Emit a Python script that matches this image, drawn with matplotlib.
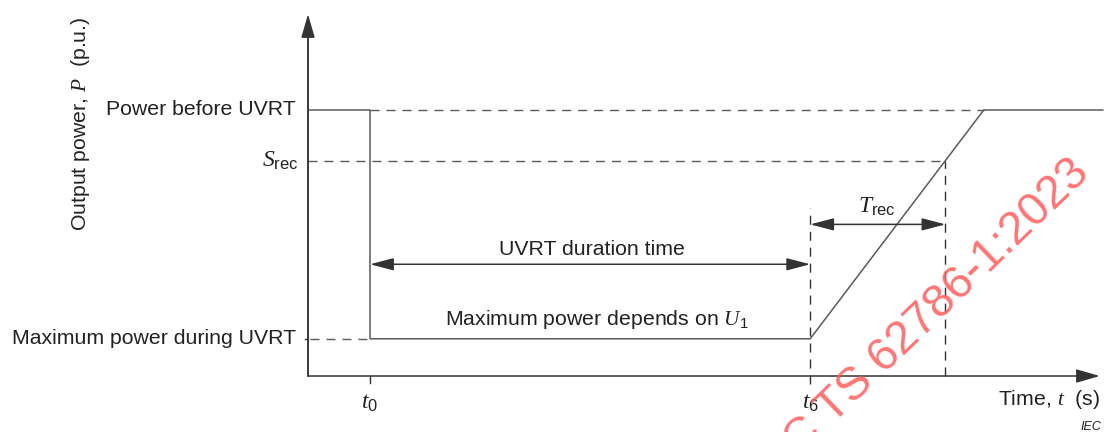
import matplotlib
matplotlib.use("Agg")
import matplotlib.pyplot as plt
import numpy as np

plt.rcParams['font.family'] = ['Liberation Sans', 'DejaVu Sans']
plt.rcParams['mathtext.fontset'] = 'custom'
plt.rcParams['mathtext.rm'] = 'Liberation Sans'
plt.rcParams['mathtext.it'] = 'Liberation Serif:italic'
plt.rcParams['mathtext.default'] = 'it'

# time instants (arbitrary units)
t0 = 1.0
t6 = 8.1
t_ramp_end = 10.9
t_line_end = 12.82
t_axis_end = 12.77

# power levels (p.u.)
P_before = 1.0
S_rec = 0.81
P_min = 0.14
P_axis_end = 1.36
y_trec_arrow = 0.57
y_dur_arrow = 0.42

# output power profile
prof_t = [0.0, t0, t0, t6, t_ramp_end, t_line_end]
prof_p = [P_before, P_before, P_min, P_min, P_before, P_before]

# time where the ramp reaches S_rec
t_srec = np.interp(S_rec, [P_min, P_before], [t6, t_ramp_end])

LINE = '#5a5a5a'
AXC = '#333333'
TXT = '#222222'
DASH = (0, (6.5, 5))

fig = plt.figure(figsize=(11.2, 4.32), dpi=100)
ax = fig.add_axes([0, 0, 1, 1])
ax.set_xlim(-4.968, 13.097)
ax.set_ylim(-0.2105, 1.4135)
ax.axis('off')

# axes with arrow heads
arr = dict(arrowstyle='-|>,head_length=1.45,head_width=0.42', color=AXC,
           lw=1.1, shrinkA=0, shrinkB=0, mutation_scale=10)
ax.annotate('', xy=(0, P_axis_end), xytext=(0, 0), arrowprops=arr)
ax.annotate('', xy=(t_axis_end, 0), xytext=(0, 0), arrowprops=arr)
ax.plot([0, 0], [0, P_axis_end - 0.05], color=AXC, lw=1.1)

# ticks
ax.plot([-0.05, 0], [P_min, P_min], color=AXC, lw=1)
ax.plot([t0, t0], [0, -0.025], color=AXC, lw=1)

# dashed guides
ax.plot([t0, t_ramp_end], [P_before, P_before], color=LINE, lw=1, ls=DASH)
ax.plot([0, t_srec], [S_rec, S_rec], color=LINE, lw=1, ls=DASH)
ax.plot([0.03, t0], [P_min, P_min], color=LINE, lw=1, ls=DASH)
ax.plot([t6, t6], [-0.03, 0.63], color=AXC, lw=1, ls=DASH)
ax.plot([t_srec, t_srec], [0, S_rec], color=AXC, lw=1, ls=DASH)

# power profile
ax.plot(prof_t, prof_p, color=LINE, lw=1.1)

# dimension arrows
dim = dict(arrowstyle='<|-|>,head_length=1.45,head_width=0.38', color=AXC,
           lw=1.1, shrinkA=0, shrinkB=0, mutation_scale=10)
ax.annotate('', xy=(t0, y_dur_arrow), xytext=(t6, y_dur_arrow), arrowprops=dim)
ax.annotate('', xy=(t6, y_trec_arrow), xytext=(t_srec, y_trec_arrow), arrowprops=dim)

fs = 15.3
fs_sym = 17
ax.text((t0 + t6) / 2 + 0.03, y_dur_arrow + 0.02, 'UVRT duration time',
        ha='center', va='bottom', fontsize=fs, color=TXT)
ax.text((t6 + t_srec) / 2 - 0.02, y_trec_arrow + 0.025, r'$T_{\mathrm{rec}}$',
        ha='center', va='bottom', fontsize=fs_sym, color=TXT)
ax.text((t0 + t6) / 2 + 0.1, P_min + 0.03, r'Maximum power depends on $U_{\mathrm{1}}$',
        ha='center', va='bottom', fontsize=fs, color=TXT)

# y level labels
ax.text(-0.19, P_before, 'Power before UVRT', ha='right', va='center',
        fontsize=fs, color=TXT)
ax.text(-0.16, S_rec, r'$S_{\mathrm{rec}}$', ha='right', va='center',
        fontsize=fs_sym, color=TXT)
ax.text(-0.19, P_min, 'Maximum power during UVRT', ha='right', va='center',
        fontsize=fs, color=TXT)

# x labels
ax.text(t0, -0.062, r'$t_{\mathrm{0}}$', ha='center', va='top', fontsize=fs_sym, color=TXT)
ax.text(t6, -0.062, r'$t_{\mathrm{6}}$', ha='center', va='top', fontsize=fs_sym, color=TXT)
ax.text(t_axis_end, -0.09, r'Time, $t$  (s)', ha='right', va='center',
        fontsize=fs, color=TXT)
ax.text(t_axis_end + 0.02, -0.19, 'IEC', ha='right', va='center',
        fontsize=9, style='italic', color=TXT)

# y axis title
ax.text(-3.67, 0.95, r'Output power, $P$  (p.u.)', rotation=90,
        ha='center', va='center', fontsize=fs, color=TXT)

# watermark
fig.text(1083 / 1120, 1 - 166 / 432, 'IEC TS 62786-1:2023', rotation=44,
         rotation_mode='anchor', ha='right', va='center', fontsize=33.5,
         color='#ff5c5c', alpha=0.85)

fig.savefig('out.png', dpi=100)
